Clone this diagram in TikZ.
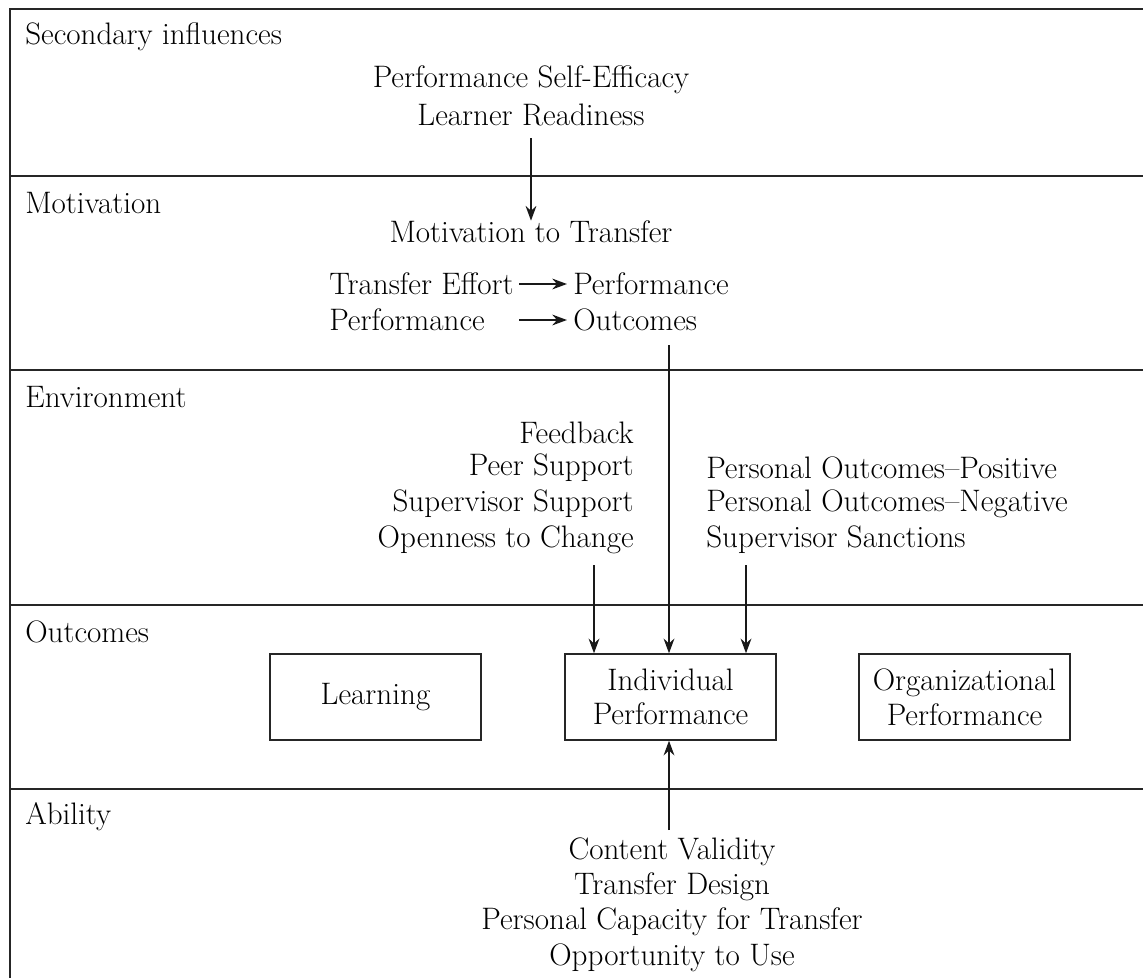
\documentclass[tikz,border=0pt]{standalone}
\usetikzlibrary{arrows.meta}
\begin{document}
\begin{tikzpicture}[x=0.75pt,y=-0.75pt,
  txt/.style={inner sep=0pt,font=\fontsize{23.3pt}{27pt}\selectfont,text=black},
  band/.style={line width=1.5pt,draw=black!85},
  outbox/.style={draw=black!85,line width=1.5pt,minimum width=158pt,minimum height=64pt,inner sep=0pt,align=center,font=\fontsize{23.3pt}{26pt}\selectfont,text=black},
  flow/.style={line width=1.8pt,draw=black!90,-{Stealth[length=11pt,width=8pt]}}]
\useasboundingbox (0,0) rectangle (1143,978);

% frame: left edge and band separators
\draw[band] (1143,9) -- (10,9) -- (10,978);
\foreach \yy in {176,370,605,789}
  \draw[band] (10,\yy) -- (1143,\yy);

% band titles
\node[txt,anchor=west] (tsec) at (25,37) {Secondary influences};
\node[txt,anchor=west] (tmot) at (25,203) {Motivation};
\node[txt,anchor=west] (tenv) at (25,397) {Environment};
\node[txt,anchor=west] (tout) at (25,632) {Outcomes};
\node[txt,anchor=west] (tabi) at (25,817) {Ability};

% secondary influences
\node[txt] (pse) at (531,80) {Performance Self-Efficacy};
\node[txt] (lr) at (531,115) {Learner Readiness};

% motivation
\node[txt] (mtt) at (531,232) {Motivation to Transfer};
\node[txt,anchor=west] (te) at (329,284) {Transfer Effort};
\node[txt,anchor=west] (perf1) at (573,284) {Performance};
\node[txt,anchor=west] (perf2) at (329,320) {Performance};
\node[txt,anchor=west] (outc) at (573,320) {Outcomes};
\coordinate (a1s) at (519,284);
\coordinate (a1e) at (567,284);
\coordinate (a2s) at (519,320);
\coordinate (a2e) at (567,320);

% environment
\node[txt,anchor=east] (fb) at (634,433) {Feedback};
\node[txt,anchor=east] (ps) at (634,468) {Peer Support};
\node[txt,anchor=east] (ss) at (634,504) {Supervisor Support};
\node[txt,anchor=east] (oc) at (634,540) {Openness to Change};
\node[txt,anchor=west] (pop) at (706,468) {Personal Outcomes--Positive};
\node[txt,anchor=west] (pon) at (706,504) {Personal Outcomes--Negative};
\node[txt,anchor=west] (ssa) at (706,540) {Supervisor Sanctions};

% outcomes
\node[outbox] (learn) at (375.5,697) {Learning};
\node[outbox] (indiv) at (670.5,697) {Individual\\Performance};
\node[outbox] (org) at (964.5,697) {Organizational\\Performance};

% ability
\node[txt] (cv) at (672,852) {Content Validity};
\node[txt] (td) at (672,887) {Transfer Design};
\node[txt] (pct) at (672,922) {Personal Capacity for Transfer};
\node[txt] (otu) at (672,958) {Opportunity to Use};

% connectors
\coordinate (c1) at (531,138);
\draw[flow] (c1) -- (mtt.north -| c1);
\draw[flow] (a1s) -- (a1e);
\draw[flow] (a2s) -- (a2e);
\coordinate (c2) at (669,345);
\draw[flow] (c2) -- (indiv.north -| c2);
\coordinate (c3) at (594,565);
\draw[flow] (c3) -- (indiv.north -| c3);
\coordinate (c4) at (746,565);
\draw[flow] (c4) -- (indiv.north -| c4);
\coordinate (c5) at (669,830);
\draw[flow] (c5) -- (indiv.south -| c5);
\end{tikzpicture}
\end{document}
